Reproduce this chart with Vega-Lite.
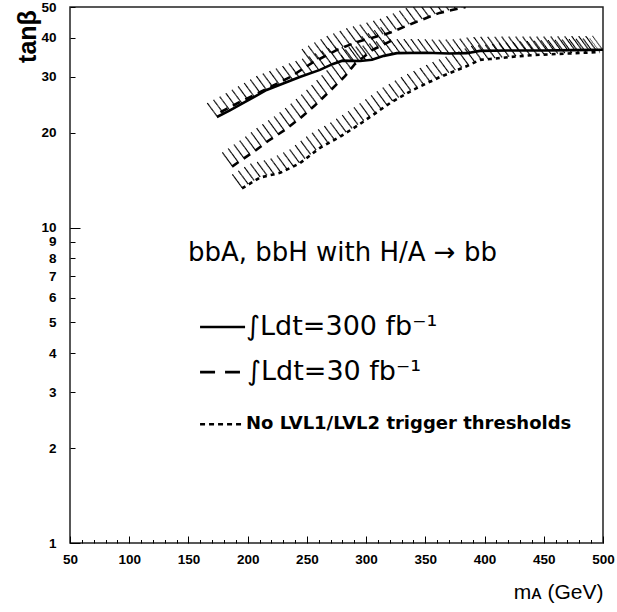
{
  "$schema": "https://vega.github.io/schema/vega-lite/v6.json",
  "width": 533,
  "height": 536,
  "autosize": {"type": "none"},
  "padding": {"left": 70, "top": 7, "right": 14, "bottom": 69},
  "background": "white",
  "config": {
    "view": {"stroke": "#222", "strokeWidth": 1.5},
    "axis": {"domain": false, "grid": false, "tickColor": "#000", "tickWidth": 1, "labelFont": "Liberation Sans", "labelFontWeight": "bold", "labelFontSize": 13.5, "labelColor": "#000", "titleColor": "#000"}
  },
  "datasets": {
    "curves": [
      {"curve": "solid", "m": 174, "tb": 22.4},
      {"curve": "solid", "m": 185, "tb": 23.5},
      {"curve": "solid", "m": 196, "tb": 24.8},
      {"curve": "solid", "m": 206, "tb": 26.0},
      {"curve": "solid", "m": 216, "tb": 27.3},
      {"curve": "solid", "m": 230, "tb": 28.6},
      {"curve": "solid", "m": 244, "tb": 30.0},
      {"curve": "solid", "m": 261, "tb": 31.6},
      {"curve": "solid", "m": 272, "tb": 33.0},
      {"curve": "solid", "m": 280, "tb": 33.8},
      {"curve": "solid", "m": 295, "tb": 33.7},
      {"curve": "solid", "m": 305, "tb": 34.0},
      {"curve": "solid", "m": 315, "tb": 35.0},
      {"curve": "solid", "m": 326, "tb": 35.7},
      {"curve": "solid", "m": 350, "tb": 35.8},
      {"curve": "solid", "m": 370, "tb": 35.6},
      {"curve": "solid", "m": 385, "tb": 35.7},
      {"curve": "solid", "m": 396, "tb": 36.3},
      {"curve": "solid", "m": 420, "tb": 36.4},
      {"curve": "solid", "m": 450, "tb": 36.4},
      {"curve": "solid", "m": 475, "tb": 36.5},
      {"curve": "solid", "m": 500, "tb": 36.6},
      {"curve": "dash_upper", "m": 177, "tb": 23.2},
      {"curve": "dash_upper", "m": 193.5, "tb": 25.0},
      {"curve": "dash_upper", "m": 216, "tb": 27.5},
      {"curve": "dash_upper", "m": 236, "tb": 30.0},
      {"curve": "dash_upper", "m": 254, "tb": 33.2},
      {"curve": "dash_upper", "m": 275, "tb": 36.5},
      {"curve": "dash_upper", "m": 292, "tb": 38.7},
      {"curve": "dash_upper", "m": 306, "tb": 40.0},
      {"curve": "dash_upper", "m": 320, "tb": 41.4},
      {"curve": "dash_upper", "m": 340, "tb": 44.5},
      {"curve": "dash_upper", "m": 362, "tb": 47.9},
      {"curve": "dash_upper", "m": 384, "tb": 50.0},
      {"curve": "dash_lower", "m": 186.8, "tb": 15.6},
      {"curve": "dash_lower", "m": 195.2, "tb": 16.4},
      {"curve": "dash_lower", "m": 206.2, "tb": 17.5},
      {"curve": "dash_lower", "m": 217.2, "tb": 18.8},
      {"curve": "dash_lower", "m": 231.5, "tb": 20.4},
      {"curve": "dash_lower", "m": 244.2, "tb": 22.2},
      {"curve": "dash_lower", "m": 256.9, "tb": 24.4},
      {"curve": "dash_lower", "m": 269.5, "tb": 27.1},
      {"curve": "dash_lower", "m": 282.2, "tb": 30.2},
      {"curve": "dash_lower", "m": 290.6, "tb": 33.0},
      {"curve": "dash_lower", "m": 305, "tb": 36.5},
      {"curve": "dash_lower", "m": 324.4, "tb": 39.6},
      {"curve": "dotted", "m": 195.2, "tb": 13.3},
      {"curve": "dotted", "m": 210.4, "tb": 14.4},
      {"curve": "dotted", "m": 227.3, "tb": 14.9},
      {"curve": "dotted", "m": 244.2, "tb": 16.0},
      {"curve": "dotted", "m": 261.1, "tb": 17.9},
      {"curve": "dotted", "m": 278, "tb": 19.4},
      {"curve": "dotted", "m": 294.9, "tb": 21.3},
      {"curve": "dotted", "m": 320.2, "tb": 24.8},
      {"curve": "dotted", "m": 339.6, "tb": 27.3},
      {"curve": "dotted", "m": 362.4, "tb": 30.0},
      {"curve": "dotted", "m": 385.2, "tb": 32.5},
      {"curve": "dotted", "m": 396.2, "tb": 34.0},
      {"curve": "dotted", "m": 404.6, "tb": 34.2},
      {"curve": "dotted", "m": 421.5, "tb": 34.7},
      {"curve": "dotted", "m": 440.9, "tb": 35.2},
      {"curve": "dotted", "m": 470, "tb": 35.6},
      {"curve": "dotted", "m": 497.5, "tb": 36.0}
    ],
    "legend_lines": [
      {"key": "a", "m": 159.8, "tb": 4.84},
      {"key": "a", "m": 197.8, "tb": 4.84},
      {"key": "b", "m": 159.8, "tb": 3.48},
      {"key": "b", "m": 193.5, "tb": 3.48},
      {"key": "c", "m": 159.8, "tb": 2.38},
      {"key": "c", "m": 196.1, "tb": 2.38}
    ],
    "labels": [
      {"kind": "title", "text": "bbA, bbH with H/A → bb", "m": 280, "tb": 8.3},
      {"kind": "leg", "text": "∫Ldt=300 fb⁻¹", "m": 198.6, "tb": 4.84},
      {"kind": "leg", "text": "∫Ldt=30 fb⁻¹", "m": 199.4, "tb": 3.48},
      {"kind": "small", "text": "No LVL1/LVL2 trigger thresholds", "m": 198.6, "tb": 2.38}
    ]
  },
  "data": {"name": "curves"},
  "encoding": {
    "x": {"field": "m", "type": "quantitative", "scale": {"domain": [50, 500], "nice": false, "zero": false}, "axis": null},
    "y": {"field": "tb", "type": "quantitative", "scale": {"type": "log", "domain": [1, 50], "nice": false}, "axis": null},
    "detail": {"field": "curve"}
  },
  "resolve": {"axis": {"x": "independent", "y": "independent"}},
  "layer": [
    {
      "mark": {"type": "line", "strokeOpacity": 0},
      "encoding": {
        "x": {"field": "m", "type": "quantitative", "scale": {"domain": [50, 500], "nice": false, "zero": false},
          "axis": {"orient": "bottom", "values": [50, 100, 150, 200, 250, 300, 350, 400, 450, 500], "tickSize": -7, "labelPadding": 16, "labelFlush": false,
            "title": "mᴀ (GeV)", "titleFont": "Liberation Sans", "titleFontSize": 21, "titleFontWeight": "normal", "titleX": 533, "titleY": 55, "titleAlign": "right", "titleBaseline": "alphabetic"}},
        "y": {"field": "tb", "type": "quantitative", "scale": {"type": "log", "domain": [1, 50], "nice": false},
          "axis": {"orient": "left", "values": [1, 2, 3, 4, 5, 6, 7, 8, 9, 10, 20, 30, 40, 50], "tickSize": -5, "labelPadding": 19,
            "title": "tanβ", "titleFont": "Liberation Sans", "titleFontSize": 25, "titleFontWeight": "bold", "titleAngle": -90, "titleX": -35, "titleY": 29, "titleAlign": "center", "titleBaseline": "alphabetic"}}
      }
    },
    {
      "mark": {"type": "line", "strokeOpacity": 0},
      "encoding": {
        "x": {"field": "m", "type": "quantitative", "scale": {"domain": [50, 500], "nice": false, "zero": false},
          "axis": {"orient": "bottom", "values": [60, 70, 80, 90, 110, 120, 130, 140, 160, 170, 180, 190, 210, 220, 230, 240, 260, 270, 280, 290, 310, 320, 330, 340, 360, 370, 380, 390, 410, 420, 430, 440, 460, 470, 480, 490], "tickSize": -3.5, "labels": false, "title": null}},
        "y": {"field": "tb", "type": "quantitative", "scale": {"type": "log", "domain": [1, 50], "nice": false},
          "axis": {"orient": "left", "values": [1, 10], "tickSize": -10, "labels": false, "title": null}}
      }
    },
    {"transform": [{"filter": "datum.curve != 'dash_upper' || datum.m >= 238"}], "mark": {"type": "line", "strokeWidth": 1.2, "strokeDash": [1.2, 5.8], "strokeCap": "butt", "xOffset": -0.7, "yOffset": -0.95, "color": "#000", "clip": true}},
    {"transform": [{"filter": "datum.curve != 'dash_upper' || datum.m >= 238"}], "mark": {"type": "line", "strokeWidth": 1.2, "strokeDash": [1.2, 5.8], "strokeCap": "butt", "xOffset": -1.4, "yOffset": -1.9, "color": "#000", "clip": true}},
    {"transform": [{"filter": "datum.curve != 'dash_upper' || datum.m >= 238"}], "mark": {"type": "line", "strokeWidth": 1.2, "strokeDash": [1.2, 5.8], "strokeCap": "butt", "xOffset": -2.1, "yOffset": -2.85, "color": "#000", "clip": true}},
    {"transform": [{"filter": "datum.curve != 'dash_upper' || datum.m >= 238"}], "mark": {"type": "line", "strokeWidth": 1.2, "strokeDash": [1.2, 5.8], "strokeCap": "butt", "xOffset": -2.8, "yOffset": -3.8, "color": "#000", "clip": true}},
    {"transform": [{"filter": "datum.curve != 'dash_upper' || datum.m >= 238"}], "mark": {"type": "line", "strokeWidth": 1.2, "strokeDash": [1.2, 5.8], "strokeCap": "butt", "xOffset": -3.5, "yOffset": -4.75, "color": "#000", "clip": true}},
    {"transform": [{"filter": "datum.curve != 'dash_upper' || datum.m >= 238"}], "mark": {"type": "line", "strokeWidth": 1.2, "strokeDash": [1.2, 5.8], "strokeCap": "butt", "xOffset": -4.2, "yOffset": -5.7, "color": "#000", "clip": true}},
    {"transform": [{"filter": "datum.curve != 'dash_upper' || datum.m >= 238"}], "mark": {"type": "line", "strokeWidth": 1.2, "strokeDash": [1.2, 5.8], "strokeCap": "butt", "xOffset": -4.9, "yOffset": -6.65, "color": "#000", "clip": true}},
    {"transform": [{"filter": "datum.curve != 'dash_upper' || datum.m >= 238"}], "mark": {"type": "line", "strokeWidth": 1.2, "strokeDash": [1.2, 5.8], "strokeCap": "butt", "xOffset": -5.6, "yOffset": -7.6, "color": "#000", "clip": true}},
    {"transform": [{"filter": "datum.curve != 'dash_upper' || datum.m >= 238"}], "mark": {"type": "line", "strokeWidth": 1.2, "strokeDash": [1.2, 5.8], "strokeCap": "butt", "xOffset": -6.3, "yOffset": -8.55, "color": "#000", "clip": true}},
    {"transform": [{"filter": "datum.curve != 'dash_upper' || datum.m >= 238"}], "mark": {"type": "line", "strokeWidth": 1.2, "strokeDash": [1.2, 5.8], "strokeCap": "butt", "xOffset": -7.0, "yOffset": -9.5, "color": "#000", "clip": true}},
    {"transform": [{"filter": "datum.curve != 'dash_upper' || datum.m >= 238"}], "mark": {"type": "line", "strokeWidth": 1.2, "strokeDash": [1.2, 5.8], "strokeCap": "butt", "xOffset": -7.7, "yOffset": -10.45, "color": "#000", "clip": true}},
    {"transform": [{"filter": "datum.curve != 'dash_upper' || datum.m >= 238"}], "mark": {"type": "line", "strokeWidth": 1.2, "strokeDash": [1.2, 5.8], "strokeCap": "butt", "xOffset": -8.4, "yOffset": -11.4, "color": "#000", "clip": true}},
    {"transform": [{"filter": "datum.curve != 'dash_upper' || datum.m >= 238"}], "mark": {"type": "line", "strokeWidth": 1.2, "strokeDash": [1.2, 5.8], "strokeCap": "butt", "xOffset": -9.1, "yOffset": -12.35, "color": "#000", "clip": true}},
    {"transform": [{"filter": "datum.curve != 'dash_upper' || datum.m >= 238"}], "mark": {"type": "line", "strokeWidth": 1.2, "strokeDash": [1.2, 5.8], "strokeCap": "butt", "xOffset": -9.8, "yOffset": -13.3, "color": "#000", "clip": true}},
    {
      "transform": [{"filter": "datum.curve == 'solid'"}],
      "mark": {"type": "line", "strokeWidth": 2.6, "color": "#000", "clip": true}
    },
    {
      "transform": [{"filter": "datum.curve == 'dash_upper' || datum.curve == 'dash_lower'"}],
      "mark": {"type": "line", "strokeWidth": 2.6, "strokeDash": [8, 6], "color": "#000", "clip": true}
    },
    {
      "transform": [{"filter": "datum.curve == 'dotted'"}],
      "mark": {"type": "line", "strokeWidth": 2.6, "strokeDash": [4, 4], "color": "#000", "clip": true}
    },
    {
      "data": {"name": "legend_lines"},
      "mark": {"type": "line", "color": "#000", "strokeCap": "butt"},
      "encoding": {
        "detail": {"field": "key"},
        "strokeDash": {"field": "key", "type": "nominal", "scale": {"domain": ["a", "b", "c"], "range": [[1, 0], [15, 10], [5, 4]]}, "legend": null},
        "strokeWidth": {"field": "key", "type": "nominal", "scale": {"domain": ["a", "b", "c"], "range": [2.6, 2.6, 1.6]}, "legend": null}
      }
    },
    {
      "data": {"name": "labels"},
      "transform": [{"filter": "datum.kind == 'title'"}],
      "mark": {"type": "text", "font": "DejaVu Sans", "fontSize": 26, "align": "center", "baseline": "middle", "color": "#000"},
      "encoding": {"detail": null, "text": {"field": "text"}}
    },
    {
      "data": {"name": "labels"},
      "transform": [{"filter": "datum.kind == 'leg'"}],
      "mark": {"type": "text", "font": "DejaVu Sans", "fontSize": 27, "align": "left", "baseline": "middle", "color": "#000"},
      "encoding": {"detail": null, "text": {"field": "text"}}
    },
    {
      "data": {"name": "labels"},
      "transform": [{"filter": "datum.kind == 'small'"}],
      "mark": {"type": "text", "font": "DejaVu Sans", "fontWeight": "bold", "fontSize": 18, "align": "left", "baseline": "middle", "color": "#000"},
      "encoding": {"detail": null, "text": {"field": "text"}}
    }
  ]
}
